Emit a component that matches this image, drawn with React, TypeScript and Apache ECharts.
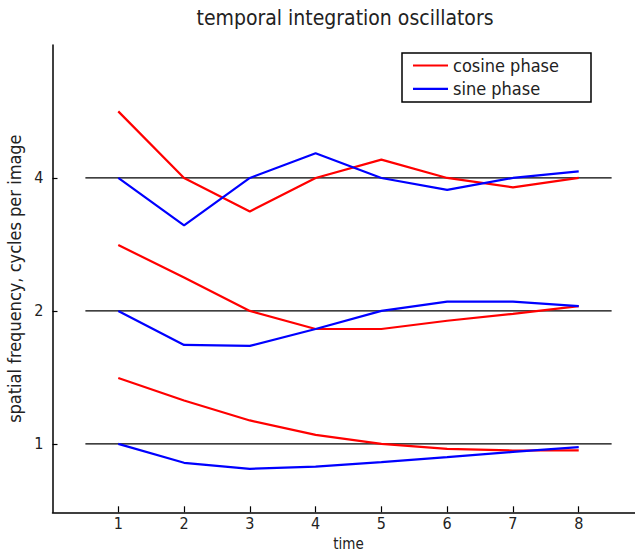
import React, { useEffect, useRef } from "react";
import * as echarts from "echarts";

const timeSteps = [1, 2, 3, 4, 5, 6, 7, 8];
const cosineLow = [1.41, 1.254, 1.13, 1.048, 1.0, 0.974, 0.966, 0.967];
const cosineMid = [2.82, 2.38, 2.0, 1.82, 1.82, 1.9, 1.97, 2.05];
const cosineHigh = [5.66, 4.0, 3.36, 4.0, 4.4, 4.0, 3.81, 4.0];
const sineLow = [1.0, 0.906, 0.878, 0.888, 0.909, 0.933, 0.959, 0.983];
const sineMid = [2.0, 1.675, 1.667, 1.82, 2.0, 2.1, 2.1, 2.05];
const sineHigh = [4.0, 3.125, 4.0, 4.55, 4.0, 3.76, 4.0, 4.14];
const referenceLevels = [1, 2, 4];
const referenceSpan = [0.5, 8.5];
const yTickValues = [1, 2, 4];

const FONT = "'Liberation Sans Narrow', 'DejaVu Sans Condensed', 'Liberation Sans', Arial, sans-serif";

export default function App() {
  const ref = useRef<HTMLDivElement>(null);
  useEffect(() => {
    document.body.style.margin = "0";
    if (!ref.current) return;
    const chart = echarts.init(ref.current, null, { renderer: "svg" });
    const toPts = (arr: number[]) => timeSteps.map((x, i) => [x, arr[i]]);
    const dataSeries = (name: string, color: string, arr: number[]) => ({
      type: "line",
      name,
      data: toPts(arr),
      symbol: "none",
      lineStyle: { color, width: 2.2 },
      itemStyle: { color },
      z: 3,
    });
    const refSeries = referenceLevels.map((lvl) => ({
      type: "line",
      name: "reference",
      data: referenceSpan.map((x) => [x, lvl]),
      symbol: "none",
      silent: true,
      lineStyle: { color: "#000", width: 1.3 },
      z: 2,
    }));
    chart.setOption({
      animation: false,
      backgroundColor: "#fff",
      textStyle: { fontFamily: FONT },
      grid: { left: 52.5, top: 45, width: 592, height: 467.3, outerBoundsMode: "none", containLabel: false },
      xAxis: {
        type: "value",
        min: 0,
        max: 9,
        interval: 1,
        name: "time",
        nameLocation: "middle",
        nameGap: 24,
        nameTextStyle: { fontSize: 15, color: "#222", fontFamily: FONT },
        axisLine: { show: true, lineStyle: { color: "#000", width: 1.5 } },
        axisTick: { show: true, inside: true, length: 6, lineStyle: { color: "#000", width: 1.2 }, customValues: timeSteps },
        axisLabel: { fontSize: 16, color: "#222", margin: 3, customValues: timeSteps, fontFamily: FONT },
        splitLine: { show: false },
      },
      yAxis: {
        type: "log",
        logBase: 2,
        min: 0.7,
        max: 8,
        name: "spatial frequency, cycles per image",
        nameLocation: "middle",
        nameGap: 26,
        nameRotate: 90,
        nameTextStyle: { fontSize: 18, color: "#222", fontFamily: FONT },
        axisLine: { show: true, lineStyle: { color: "#000", width: 1.5 } },
        axisTick: { show: true, inside: true, length: 5, lineStyle: { color: "#000", width: 1.2 }, customValues: yTickValues },
        axisLabel: { fontSize: 16, color: "#222", margin: 9, customValues: yTickValues, fontFamily: FONT },
        splitLine: { show: false },
      },
      legend: {
        data: [
          { name: "cosine phase", icon: "rect" },
          { name: "sine phase", icon: "rect" },
        ],
        orient: "vertical",
        left: 413,
        top: 56.5,
        padding: 0,
        itemWidth: 35,
        itemHeight: 2.2,
        itemGap: 5.3,
        itemTextGap: 12,
        textStyle: { fontSize: 18, lineHeight: 18, color: "#222", fontFamily: FONT },
      },
      graphic: [
        {
          type: "rect",
          shape: { x: 402, y: 53, width: 189, height: 49 },
          style: { fill: "none", stroke: "#000", lineWidth: 1.5 },
          z: 10,
        },
        {
          type: "text",
          x: 345,
          y: 18,
          style: {
            text: "temporal integration oscillators",
            fontSize: 21,
            fill: "#222",
            fontFamily: FONT,
            textAlign: "center",
            textVerticalAlign: "middle",
          },
        },
      ],
      series: [
        ...refSeries,
        dataSeries("cosine phase", "#ff0000", cosineHigh),
        dataSeries("cosine phase", "#ff0000", cosineMid),
        dataSeries("cosine phase", "#ff0000", cosineLow),
        dataSeries("sine phase", "#0000ff", sineHigh),
        dataSeries("sine phase", "#0000ff", sineMid),
        dataSeries("sine phase", "#0000ff", sineLow),
      ],
    });
    return () => chart.dispose();
  }, []);
  return <div ref={ref} style={{ width: 635, height: 552 }} />;
}
